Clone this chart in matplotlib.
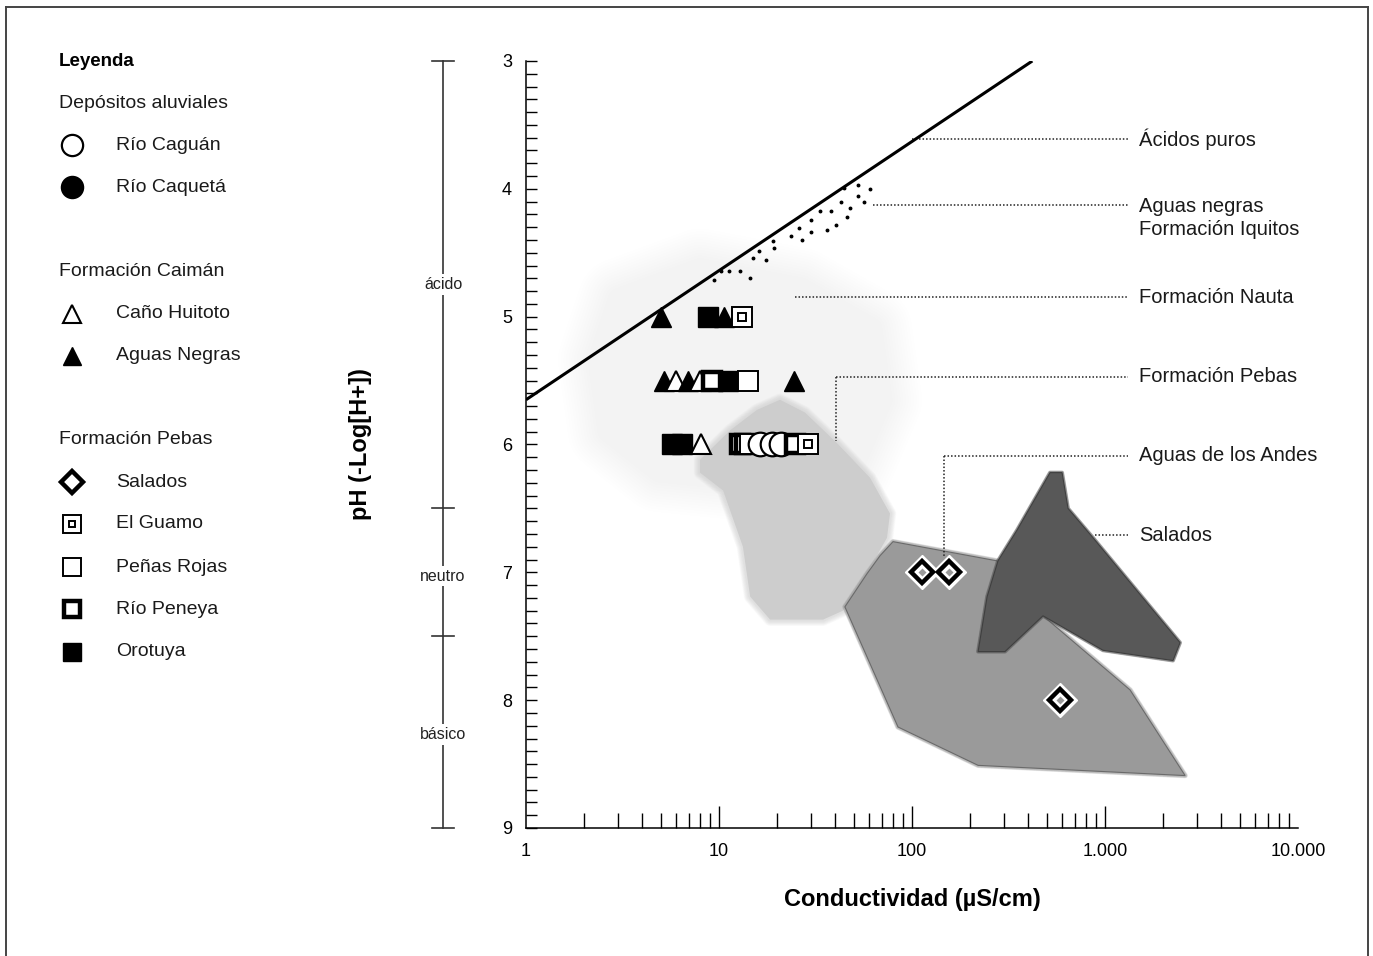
import numpy as np
import matplotlib
matplotlib.use("Agg")
import matplotlib.pyplot as plt
import matplotlib.transforms as mtransforms
from matplotlib.ticker import FixedLocator, FixedFormatter, MultipleLocator, NullFormatter

plt.rcParams['font.family'] = ['Liberation Sans', 'DejaVu Sans']

# ---- data (conductivity µS/cm, pH) ----
acid_x = [1, 420]
acid_y = [5.65, 3.0]

iquitos_x = [9.4, 10.2, 11.3, 12.8, 14.5, 15.0, 16.1, 17.5, 19.0, 19.3, 23.6, 26.0, 26.9, 30.0,
             30.0, 33.4, 36.3, 38.0, 40.4, 42.9, 44.4, 46.0, 47.7, 52.5, 52.5, 56.4, 60.6]
iquitos_y = [4.71, 4.64, 4.64, 4.64, 4.70, 4.54, 4.49, 4.56, 4.41, 4.46, 4.37, 4.31, 4.40, 4.24,
             4.34, 4.17, 4.32, 4.17, 4.28, 4.10, 3.99, 4.22, 4.15, 3.97, 4.06, 4.10, 4.00]

haze_x = [3.07, 7.97, 26.3, 60.6, 68.3, 47.7, 16.3, 4.95, 2.72, 2.42]
haze_y = [4.87, 4.64, 4.79, 5.10, 5.65, 6.20, 6.28, 6.20, 5.89, 5.34]

pebas_x = [20.7, 27.9, 40.9, 60.6, 76.9, 74.2, 55.7, 43.9, 34.6, 18.4, 14.5, 13.3, 10.5, 7.97, 7.97, 11.4, 15.7]
pebas_y = [5.65, 5.75, 5.99, 6.26, 6.54, 6.73, 7.06, 7.30, 7.37, 7.37, 7.19, 6.80, 6.36, 6.22, 6.12, 5.89, 5.73]

andes_x = [79.7, 275, 477, 1348, 2600, 220, 84.6, 44.9, 58.5, 68.3]
andes_y = [6.76, 6.91, 7.34, 7.92, 8.59, 8.51, 8.21, 7.27, 7.01, 6.87]

salados_x = [519, 599, 643, 867, 2447, 2250, 977, 477, 303, 220, 245, 279, 350]
salados_y = [6.22, 6.22, 6.50, 6.73, 7.55, 7.69, 7.61, 7.34, 7.62, 7.62, 7.19, 6.91, 6.67]

# samples
rio_caguan_x = [16.3, 18.8, 21.0]
rio_caguan_y = [6.0, 6.0, 6.0]
rio_caqueta_x, rio_caqueta_y = [], []
huitoto_x = [5.99, 7.97, 8.06]
huitoto_y = [5.5, 5.5, 6.0]
negras_x = [5.0, 10.6, 5.19, 6.91, 24.5]
negras_y = [5.0, 5.0, 5.5, 5.5, 5.5]
salados_pts_x = [113, 156, 585]
salados_pts_y = [7.0, 7.0, 8.0]
guamo_x = [13.2, 29.0]
guamo_y = [5.0, 6.0]
penas_x = [14.1, 14.5]
penas_y = [5.5, 6.0]
peneya_x = [9.2, 12.8, 13.6, 24.8]
peneya_y = [5.5, 6.0, 6.0, 6.0]
orotuya_x = [8.76, 11.1, 5.70, 6.43]
orotuya_y = [5.0, 5.5, 6.0, 6.0]

zones = [3, 6.5, 7.5, 9]
zone_labels = ["ácido", "neutro", "básico"]
zone_label_y = [4.75, 7.03, 8.27]

xtick_vals = [1, 10, 100, 1000, 10000]
xtick_labels = ["1", "10", "100", "1.000", "10.000"]

notes = ["Ácidos puros", "Aguas negras\nFormación Iquitos", "Formación Nauta",
         "Formación Pebas", "Aguas de los Andes", "Salados"]
note_y = [3.61, 4.23, 4.85, 5.47, 6.09, 6.71]
lead_x0 = [100, 62.8, 24.8, 40.4, 146.5, 887]
lead_y = [3.61, 4.13, 4.85, 5.47, 6.09, 6.71]
lead_drop = [None, None, None, 5.97, 6.87, None]
note_x = 1500
lead_x1 = 1316

# ---- figure ----
fig = plt.figure(figsize=(13.73, 9.56), dpi=100)
ax = fig.add_axes([0.3831, 0.1339, 0.5623, 0.8023])
ax.set_xscale("log")
ax.set_xlim(1, 10000)
ax.set_ylim(9, 3)
for s in ["top", "right"]:
    ax.spines[s].set_visible(False)
ax.spines["left"].set_linewidth(1.1)
ax.spines["bottom"].set_linewidth(1.1)


def soft_fill(xs, ys, color, blur, z, edge=None, a=0.10, n=10):
    for w in np.linspace(blur, 2, n):
        ax.fill(xs, ys, facecolor="none", edgecolor=color, lw=w, alpha=a,
                joinstyle="round", zorder=z - 0.05)
    ax.fill(xs, ys, facecolor=color, edgecolor=edge if edge else "none",
            lw=0.8 if edge else 0, zorder=z)


soft_fill(haze_x, haze_y, "#f3f3f3", 60, 0.5, a=0.06, n=16)
soft_fill(pebas_x, pebas_y, "#cdcdcd", 9, 1, a=0.08)
soft_fill(andes_x, andes_y, "#9a9a9a", 4, 1.2, edge="#6a6a6a")
soft_fill(salados_x, salados_y, "#585858", 3, 1.3, edge="#3f3f3f")

ax.plot(acid_x, acid_y, color="black", lw=2.2, solid_capstyle="butt", zorder=3)
ax.plot(iquitos_x, iquitos_y, ls="none", marker="o", ms=1.8, color="black", zorder=3)

# leader lines and notes
for t, ty, x0, ly, dy in zip(notes, note_y, lead_x0, lead_y, lead_drop):
    ax.plot([x0, lead_x1], [ly, ly], color="#222", lw=1.1, ls=(0, (1, 1.3)), zorder=2)
    if dy is not None:
        ax.plot([x0, x0], [ly, dy], color="#222", lw=1.1, ls=(0, (1, 1.3)), zorder=2)
    ax.text(note_x, ty, t, fontsize=14.5, va="center", ha="left", linespacing=1.3,
            color="#1a1a1a", clip_on=False)

# ---- sample markers ----
styles = {
    "caguan": dict(marker="o", ms=17, mfc="white", mec="black", mew=1.6),
    "caqueta": dict(marker="o", ms=17, mfc="black", mec="black", mew=1.6),
    "huitoto": dict(marker="^", ms=15, mfc="white", mec="black", mew=1.5),
    "negras": dict(marker="^", ms=15, mfc="black", mec="black", mew=1.0),
    "guamo": dict(marker="s", ms=15, mfc="white", mec="black", mew=1.4),
    "penas": dict(marker="s", ms=15, mfc="white", mec="black", mew=1.4),
    "peneya": dict(marker="s", ms=13, mfc="white", mec="black", mew=3.2),
    "orotuya": dict(marker="s", ms=15, mfc="black", mec="black", mew=1.0),
}
series = [("caguan", rio_caguan_x, rio_caguan_y), ("caqueta", rio_caqueta_x, rio_caqueta_y),
          ("huitoto", huitoto_x, huitoto_y), ("negras", negras_x, negras_y),
          ("guamo", guamo_x, guamo_y), ("penas", penas_x, penas_y),
          ("peneya", peneya_x, peneya_y), ("orotuya", orotuya_x, orotuya_y)]
pts = sorted([(x, y, k) for k, xs, ys in series for x, y in zip(xs, ys)])
for i, (x, y, k) in enumerate(pts):
    ax.plot([x], [y], ls="none", zorder=4 + i * 0.01, **styles[k])
    if k == "guamo":
        ax.plot([x], [y], ls="none", marker="s", ms=6, mfc="white", mec="black", mew=1.4,
                zorder=4 + i * 0.01 + 0.005)

ax.plot(salados_pts_x, salados_pts_y, ls="none", marker="D", ms=17, mfc="white", mec="white", zorder=5)
ax.plot(salados_pts_x, salados_pts_y, ls="none", marker="D", ms=11, mfc="white", mec="black", mew=3.2, zorder=5.1)
ax.plot(salados_pts_x, salados_pts_y, ls="none", marker="D", ms=4.5, mfc="#9a9a9a", mec="none", zorder=5.2)

# ---- ticks ----
ax.xaxis.set_major_locator(FixedLocator(xtick_vals))
ax.xaxis.set_major_formatter(FixedFormatter(xtick_labels))
ax.xaxis.set_minor_locator(FixedLocator([m * 10 ** d for d in range(4) for m in range(2, 10)]))
ax.xaxis.set_minor_formatter(NullFormatter())
ax.tick_params(axis="x", which="major", direction="in", length=16, width=1.0, pad=11, labelsize=13)
ax.tick_params(axis="x", which="minor", direction="in", length=11, width=1.0)
ax.xaxis.get_major_ticks()[-1].tick1line.set_visible(False)
ax.xaxis.get_major_ticks()[0].tick1line.set_visible(False)

ax.yaxis.set_major_locator(MultipleLocator(1))
ax.yaxis.set_minor_locator(MultipleLocator(0.1))
ax.tick_params(axis="y", which="major", direction="in", length=8, width=1.0, pad=10, labelsize=13)
ax.tick_params(axis="y", which="minor", direction="in", length=8, width=1.0)

ax.set_xlabel("Conductividad (µS/cm)", fontsize=17, fontweight="bold")
ax.xaxis.set_label_coords(0.5, -0.078)
ax.set_ylabel("pH (-Log[H+])", fontsize=17, fontweight="bold")
ax.yaxis.set_label_coords(-0.1995, 0.5)

# acid / neutral / basic scale
tr = mtransforms.blended_transform_factory(ax.transAxes, ax.transData)
ax.plot([-0.1075, -0.1075], [zones[0], zones[-1]], color="#333", lw=1.2, transform=tr, clip_on=False)
for z in zones:
    ax.plot([-0.122, -0.093], [z, z], color="#333", lw=1.2, transform=tr, clip_on=False)
for t, yy in zip(zone_labels, zone_label_y):
    ax.text(-0.1075, yy, t, transform=tr, fontsize=11.5, ha="center", va="center", color="#222",
            bbox=dict(facecolor="white", edgecolor="none", pad=2), clip_on=False)

# ---- legend (manual) ----
lax = fig.add_axes([0, 0, 1, 1])
lax.set_xlim(0, 1373)
lax.set_ylim(956, 0)
lax.axis("off")
lax.text(59, 61, "Leyenda", fontsize=13.5, fontweight="bold", va="center")
groups = [(103, "Depósitos aluviales"), (271, "Formación Caimán"), (440, "Formación Pebas")]
for gy, g in groups:
    lax.text(59, gy, g, fontsize=14, va="center", color="#1a1a1a")
entries = [(145, "Río Caguán", "caguan"), (187, "Río Caquetá", "caqueta"),
           (314, "Caño Huitoto", "huitoto"), (356, "Aguas Negras", "negras"),
           (482, "Salados", "salados"), (524, "El Guamo", "guamo"),
           (567, "Peñas Rojas", "penas"), (609, "Río Peneya", "peneya"), (652, "Orotuya", "orotuya")]
for ey, lab, k in entries:
    if k == "salados":
        lax.plot([72], [ey], ls="none", marker="D", ms=11, mfc="white", mec="black", mew=3.2)
    else:
        st = dict(styles[k])
        st["ms"] = st["ms"] * 0.9
        lax.plot([72], [ey], ls="none", **st)
        if k == "guamo":
            lax.plot([72], [ey], ls="none", marker="s", ms=5, mfc="white", mec="black", mew=1.4)
    lax.text(116, ey, lab, fontsize=14, va="center", color="#1a1a1a")

# frame
for xs, ys in [([6, 6], [7, 956]), ([6, 1368], [7, 7]), ([1368, 1368], [7, 956])]:
    lax.plot(xs, ys, color="#444", lw=1.4)

fig.savefig("out.png", dpi=100)
